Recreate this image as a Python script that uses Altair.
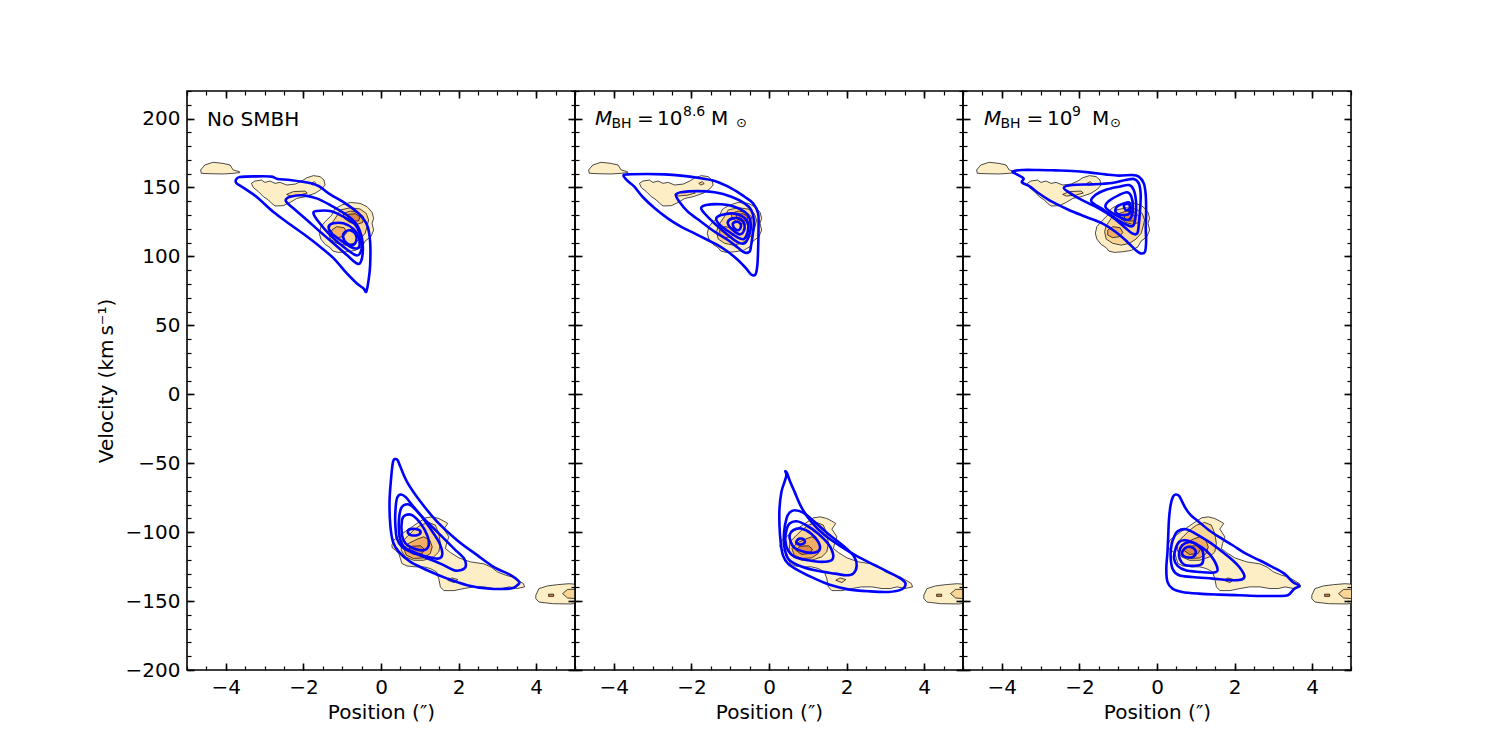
import altair as alt
import pandas as pd

# ---------------------------------------------------------------- axes
POS_RANGE = [-5, 5]
VEL_RANGE = [-200, 220]
POS_MAJOR = [-4, -2, 0, 2, 4]
POS_MINOR = [-5 + 0.5 * i for i in range(21)]
VEL_MAJOR = [-200, -150, -100, -50, 0, 50, 100, 150, 200]
VEL_MINOR = list(range(-200, 221, 10))

# ------------------------------------------- observed PVD contours
# closed paths of (position ["], velocity [km/s]), one list per level
obs_l1_west_clump = [(-4.65, 162.7), (-4.54, 166.3), (-4.33, 168.3), (-4.07, 167.5), (-3.89, 166.3),
                     (-3.81, 162.7), (-3.65, 161.5), (-3.64, 160.8), (-3.81, 160.3), (-4.07, 159.8),
                     (-4.41, 160.0), (-4.63, 160.3)]
obs_l1_north_band = [(-3.34, 153.0), (-3.25, 154.7), (-3.08, 155.4), (-2.99, 153.7), (-2.86, 154.7),
                     (-2.73, 153.0), (-2.60, 153.7), (-2.43, 151.8), (-2.21, 152.5), (-2.04, 154.7),
                     (-1.91, 157.1), (-1.74, 158.6), (-1.57, 157.9), (-1.47, 155.4), (-1.44, 151.8),
                     (-1.53, 148.9), (-1.70, 145.8), (-1.96, 143.3), (-2.17, 142.1), (-2.34, 139.2),
                     (-2.52, 136.8), (-2.73, 136.6), (-2.82, 138.5), (-2.90, 140.9), (-3.03, 143.3),
                     (-3.16, 147.0), (-3.29, 149.9)]
obs_l1_north_core = [(-1.14, 135.3), (-1.01, 137.3), (-0.79, 139.2), (-0.54, 138.5), (-0.36, 136.1),
                     (-0.23, 132.0), (-0.19, 127.6), (-0.23, 124.0), (-0.19, 119.1), (-0.26, 114.3),
                     (-0.41, 111.1), (-0.49, 107.0), (-0.66, 104.4), (-0.88, 103.4), (-1.10, 102.9),
                     (-1.24, 103.9), (-1.31, 106.3), (-1.44, 108.7), (-1.55, 112.6), (-1.59, 116.7),
                     (-1.55, 121.6), (-1.44, 125.2), (-1.27, 130.0), (-1.21, 133.7)]
obs_l1_south = [(0.28, -109.5), (0.33, -105.8), (0.50, -102.2), (0.67, -98.6), (0.93, -93.7),
                (1.15, -89.6), (1.32, -88.9), (1.49, -90.1), (1.62, -92.0), (1.72, -93.7),
                (1.62, -97.8), (1.75, -103.4), (1.69, -108.2), (1.66, -111.9), (1.79, -114.8),
                (2.01, -118.7), (2.31, -121.6), (2.65, -123.0), (2.84, -125.4), (3.00, -128.8),
                (3.21, -131.2), (3.38, -132.5), (3.53, -134.9), (3.67, -137.3), (3.70, -139.7),
                (3.51, -140.9), (3.30, -139.7), (3.13, -140.9), (2.91, -140.9), (2.65, -139.7),
                (2.39, -139.7), (2.14, -140.9), (1.88, -142.4), (1.62, -142.4), (1.53, -139.7),
                (1.49, -133.7), (1.43, -128.8), (1.27, -126.4), (1.10, -125.2), (0.89, -125.2),
                (0.67, -124.5), (0.54, -122.8), (0.50, -119.1), (0.46, -115.5), (0.37, -113.1),
                (0.29, -111.4)]
obs_l1_east_clump = [(3.99, -145.8), (4.07, -141.0), (4.29, -139.0), (4.55, -138.1), (4.85, -137.4),
                     (5.15, -138.1), (5.32, -141.0), (5.32, -150.7), (4.89, -152.1), (4.42, -151.9),
                     (4.07, -150.7), (3.99, -148.2)]

obs_l2_band_streak = [(-2.43, 145.0), (-2.26, 147.0), (-1.96, 147.4), (-1.90, 146.0), (-2.09, 144.5),
                      (-2.34, 143.8)]
obs_l2_band_knot = [(-1.81, 153.0), (-1.72, 154.2), (-1.67, 152.8), (-1.76, 151.8)]
obs_l2_north_core = [(-1.05, 133.7), (-0.79, 135.3), (-0.54, 134.4), (-0.38, 131.2), (-0.32, 126.4),
                     (-0.36, 121.6), (-0.41, 116.7), (-0.54, 112.6), (-0.71, 109.5), (-0.92, 108.2),
                     (-1.14, 109.5), (-1.31, 112.6), (-1.35, 117.9), (-1.31, 122.3), (-1.18, 127.6),
                     (-1.10, 131.2)]
obs_l2_south_core = [(0.54, -107.0), (0.67, -103.4), (0.84, -98.6), (1.02, -94.9), (1.23, -93.0),
                     (1.40, -94.9), (1.49, -101.0), (1.53, -108.2), (1.49, -114.3), (1.36, -117.9),
                     (1.10, -120.4), (0.84, -120.4), (0.63, -117.9), (0.52, -113.1)]
obs_l2_south_knot = [(1.72, -134.9), (1.83, -133.2), (1.98, -134.4), (1.88, -136.6)]
obs_l2_east_knot = [(4.68, -144.6), (4.81, -141.5), (5.02, -141.5), (5.02, -148.2), (4.81, -147.8)]

obs_l3_north_a = [(-0.97, 131.2), (-0.79, 132.9), (-0.58, 132.0), (-0.45, 128.8), (-0.47, 124.7),
                  (-0.62, 123.2), (-0.81, 124.7), (-0.95, 127.6)]
obs_l3_north_b = [(-1.27, 119.1), (-1.14, 121.6), (-0.95, 120.8), (-0.88, 117.4), (-0.97, 114.3),
                  (-1.14, 113.6), (-1.27, 115.5)]
obs_l3_south = [(0.59, -111.9), (0.71, -108.2), (0.93, -105.1), (1.10, -103.4), (1.26, -105.8),
                (1.32, -110.7), (1.27, -115.5), (1.10, -118.7), (0.84, -119.1), (0.65, -116.7)]

obs_l4_north = [(-0.84, 130.5), (-0.66, 131.0), (-0.54, 128.6), (-0.58, 125.7), (-0.73, 125.7),
                (-0.84, 127.6)]
obs_l4_south = [(0.69, -113.1), (0.80, -110.2), (1.02, -109.9), (1.12, -112.4), (1.06, -115.5),
                (0.84, -116.2)]
obs_l4_east_dash = [(4.32, -145.0), (4.45, -145.0), (4.45, -146.6), (4.32, -146.6)]

OBS_LEVELS = [
    [obs_l1_west_clump, obs_l1_north_band, obs_l1_north_core, obs_l1_south, obs_l1_east_clump],
    [obs_l2_band_streak, obs_l2_band_knot, obs_l2_north_core, obs_l2_south_core, obs_l2_south_knot,
     obs_l2_east_knot],
    [obs_l3_north_a, obs_l3_north_b, obs_l3_south],
    [obs_l4_north, obs_l4_south, obs_l4_east_dash],
]

# ------------------------------------------------ model contours
# no black hole
nobh_north = [
    [(-3.74, 155.4), (-3.64, 157.6), (-3.20, 158.1), (-2.82, 157.9), (-2.67, 156.2), (-2.34, 155.4),
     (-1.91, 153.7), (-1.61, 151.1), (-1.31, 145.0), (-0.92, 138.5), (-0.58, 131.2), (-0.36, 122.8),
     (-0.28, 110.7), (-0.28, 93.7), (-0.32, 82.8), (-0.38, 74.4), (-0.45, 76.8), (-0.62, 80.4),
     (-0.88, 87.7), (-1.22, 98.6), (-1.57, 107.0), (-1.96, 115.5), (-2.34, 123.2), (-2.78, 132.4),
     (-3.21, 143.3), (-3.55, 149.9), (-3.72, 153.0)],
    [(-2.45, 141.4), (-2.34, 143.3), (-2.00, 144.3), (-1.66, 142.1), (-1.31, 137.3), (-0.88, 130.0),
     (-0.62, 122.8), (-0.49, 113.1), (-0.47, 103.4), (-0.52, 96.1), (-0.62, 94.9), (-0.88, 101.0),
     (-1.22, 109.4), (-1.57, 117.9), (-1.91, 126.4), (-2.26, 134.9), (-2.43, 139.2)],
    [(-1.74, 131.2), (-1.66, 132.9), (-1.31, 132.9), (-0.97, 128.8), (-0.66, 122.8), (-0.54, 115.5),
     (-0.49, 108.2), (-0.54, 102.2), (-0.66, 101.0), (-0.97, 107.0), (-1.31, 115.5), (-1.61, 125.2)],
    [(-1.35, 121.6), (-1.23, 124.0), (-0.97, 124.0), (-0.71, 119.9), (-0.58, 114.3), (-0.55, 108.2),
     (-0.62, 105.8), (-0.79, 107.0), (-1.05, 111.9), (-1.27, 116.7)],
    [(-0.98, 114.3), (-0.92, 117.9), (-0.78, 118.9), (-0.65, 116.0), (-0.64, 111.1), (-0.73, 108.2),
     (-0.88, 109.5)],
]
nobh_south = [
    [(0.37, -47.0), (0.31, -49.0), (0.26, -61.1), (0.22, -78.0), (0.24, -94.9), (0.31, -107.0),
     (0.46, -114.3), (0.76, -121.6), (1.19, -127.6), (1.71, -133.7), (2.22, -138.5), (2.74, -140.9),
     (3.34, -140.9), (3.51, -138.5), (3.56, -136.1), (3.34, -131.2), (2.90, -125.2), (2.48, -116.7),
     (1.96, -105.8), (1.45, -92.5), (1.02, -78.0), (0.67, -63.5), (0.50, -52.6), (0.43, -47.8)],
    [(0.41, -75.6), (0.50, -72.7), (0.63, -74.4), (0.84, -81.6), (1.10, -90.1), (1.45, -99.8),
     (1.88, -111.9), (2.14, -119.1), (2.18, -125.2), (2.05, -127.6), (1.88, -127.6), (1.53, -122.8),
     (1.10, -117.9), (0.76, -114.3), (0.54, -110.7), (0.41, -104.6), (0.37, -94.9), (0.37, -85.3)],
    [(0.50, -84.1), (0.59, -80.4), (0.76, -80.4), (1.02, -87.7), (1.27, -97.4), (1.49, -107.0),
     (1.58, -115.5), (1.49, -119.1), (1.19, -117.9), (0.84, -114.3), (0.59, -110.7), (0.48, -103.4),
     (0.46, -92.5)],
    [(0.54, -91.3), (0.63, -87.7), (0.80, -87.7), (1.02, -93.7), (1.19, -102.2), (1.23, -109.5),
     (1.10, -113.1), (0.84, -111.9), (0.63, -108.2), (0.54, -102.2)],
    [(0.69, -99.8), (0.76, -97.8), (0.95, -98.1), (1.02, -100.3), (0.93, -102.2), (0.76, -102.0)],
]

# M_BH = 10^8.6 Msun
m86_north = [
    [(-3.75, 158.6), (-3.64, 159.5), (-3.13, 159.8), (-2.70, 159.5), (-2.27, 158.6), (-1.84, 157.1),
     (-1.40, 154.7), (-0.97, 149.4), (-0.63, 143.3), (-0.41, 138.5), (-0.28, 131.2), (-0.27, 120.3),
     (-0.28, 105.8), (-0.30, 93.7), (-0.35, 86.9), (-0.46, 86.9), (-0.59, 91.3), (-0.80, 97.4),
     (-1.06, 103.4), (-1.32, 108.2), (-1.58, 111.9), (-1.92, 116.7), (-2.27, 121.6), (-2.61, 127.6),
     (-2.96, 135.3), (-3.26, 143.3), (-3.47, 150.6), (-3.64, 154.7)],
    [(-2.40, 144.5), (-2.27, 146.5), (-1.84, 147.4), (-1.40, 146.5), (-0.97, 143.3), (-0.63, 138.5),
     (-0.46, 133.7), (-0.39, 126.4), (-0.41, 117.9), (-0.46, 108.2), (-0.50, 103.4), (-0.63, 102.9),
     (-0.80, 106.3), (-1.06, 111.9), (-1.40, 117.9), (-1.75, 125.2), (-2.09, 132.4), (-2.31, 139.7)],
    [(-1.75, 134.9), (-1.62, 137.3), (-1.23, 137.8), (-0.89, 136.1), (-0.63, 132.4), (-0.50, 127.6),
     (-0.47, 120.3), (-0.54, 113.1), (-0.63, 109.5), (-0.80, 110.2), (-1.06, 115.5), (-1.36, 122.8),
     (-1.62, 130.0)],
    [(-1.36, 127.6), (-1.23, 130.0), (-0.93, 131.2), (-0.67, 128.8), (-0.54, 124.0), (-0.56, 116.7),
     (-0.65, 112.6), (-0.80, 113.6), (-1.06, 118.4), (-1.28, 123.2)],
    [(-1.06, 125.2), (-0.93, 127.6), (-0.73, 127.1), (-0.63, 122.8), (-0.66, 117.9), (-0.76, 116.0),
     (-0.90, 118.4), (-1.02, 121.6)],
    [(-0.93, 124.0), (-0.80, 125.2), (-0.72, 122.3), (-0.78, 119.1), (-0.89, 120.3)],
]
m86_south = [
    [(0.42, -55.8), (0.45, -58.7), (0.40, -63.5), (0.32, -70.8), (0.27, -82.9), (0.27, -95.0),
     (0.30, -107.1), (0.36, -116.8), (0.49, -122.8), (0.75, -127.7), (1.18, -133.7), (1.61, -138.6),
     (2.04, -141.5), (2.56, -142.9), (3.07, -143.4), (3.42, -141.5), (3.52, -137.4), (3.42, -134.2),
     (3.16, -130.1), (2.73, -124.0), (2.30, -118.0), (1.87, -110.7), (1.44, -102.3), (1.09, -92.6),
     (0.83, -81.7), (0.66, -70.8), (0.53, -62.3), (0.47, -57.5)],
    [(0.45, -90.2), (0.53, -85.8), (0.66, -84.1), (0.88, -85.8), (1.18, -92.6), (1.52, -101.1),
     (1.95, -110.7), (2.20, -118.0), (2.26, -124.5), (2.17, -130.1), (2.00, -131.3), (1.70, -130.1),
     (1.18, -127.7), (0.75, -124.0), (0.49, -119.2), (0.39, -109.5), (0.39, -99.8)],
    [(0.45, -98.6), (0.53, -93.8), (0.71, -92.1), (0.96, -95.0), (1.27, -101.1), (1.52, -108.3),
     (1.65, -115.6), (1.61, -120.4), (1.35, -121.6), (1.01, -120.4), (0.66, -118.0), (0.49, -113.2),
     (0.42, -105.9)],
    [(0.53, -102.3), (0.62, -98.6), (0.83, -97.4), (1.09, -101.1), (1.27, -107.1), (1.31, -112.4),
     (1.18, -114.8), (0.92, -114.4), (0.66, -111.5), (0.56, -107.1)],
    [(0.71, -106.6), (0.79, -104.7), (0.90, -105.4), (0.92, -107.6), (0.82, -109.0), (0.72, -108.3)],
]

# M_BH = 10^9 Msun
m9_north = [
    [(-3.72, 161.5), (-3.48, 162.7), (-3.05, 162.7), (-2.62, 162.4), (-2.19, 162.0), (-1.76, 161.0),
     (-1.33, 159.5), (-0.98, 158.6), (-0.64, 159.1), (-0.47, 157.9), (-0.34, 153.0), (-0.29, 144.5),
     (-0.28, 132.4), (-0.29, 120.3), (-0.28, 110.7), (-0.31, 103.4), (-0.42, 102.2), (-0.55, 104.6),
     (-0.77, 110.7), (-1.07, 117.9), (-1.41, 124.0), (-1.84, 128.8), (-2.27, 133.7), (-2.71, 139.7),
     (-3.05, 145.8), (-3.27, 150.6), (-3.48, 153.7), (-3.44, 156.6), (-3.61, 159.5)],
    [(-2.40, 149.9), (-2.19, 151.8), (-1.67, 152.3), (-1.16, 153.3), (-0.81, 155.4), (-0.60, 156.2),
     (-0.47, 153.0), (-0.42, 144.5), (-0.44, 132.4), (-0.47, 122.8), (-0.51, 116.7), (-0.64, 116.7),
     (-0.85, 121.6), (-1.16, 128.8), (-1.50, 134.9), (-1.93, 140.9), (-2.27, 146.5)],
    [(-1.69, 139.7), (-1.59, 144.5), (-1.33, 148.2), (-0.98, 150.6), (-0.72, 151.8), (-0.60, 148.2),
     (-0.54, 139.7), (-0.55, 130.0), (-0.61, 122.3), (-0.77, 122.8), (-1.07, 127.6), (-1.37, 133.7)],
    [(-1.33, 136.1), (-1.24, 140.2), (-0.98, 144.5), (-0.77, 146.5), (-0.66, 143.3), (-0.62, 136.1),
     (-0.66, 128.8), (-0.77, 126.4), (-0.98, 128.8), (-1.20, 132.4)],
    [(-1.07, 132.4), (-1.03, 136.1), (-0.85, 138.5), (-0.72, 139.2), (-0.68, 136.1), (-0.71, 131.2),
     (-0.83, 130.0), (-0.98, 130.5)],
    [(-0.85, 137.3), (-0.72, 137.8), (-0.71, 134.4), (-0.81, 133.7)],
]
m9_south = [
    [(0.41, -74.4), (0.48, -72.7), (0.57, -73.7), (0.65, -78.1), (0.74, -82.9), (0.87, -87.7),
     (1.08, -92.6), (1.34, -98.6), (1.60, -103.5), (1.95, -109.5), (2.29, -115.6), (2.64, -120.4),
     (2.98, -125.3), (3.28, -130.1), (3.50, -136.1), (3.67, -139.0), (3.54, -141.0), (3.37, -145.8),
     (3.07, -146.3), (2.64, -146.3), (2.12, -145.8), (1.60, -145.3), (1.08, -144.6), (0.65, -143.4),
     (0.40, -141.0), (0.27, -136.1), (0.24, -126.5), (0.27, -114.4), (0.29, -102.3), (0.31, -90.2),
     (0.35, -80.5)],
    [(0.44, -103.5), (0.53, -99.4), (0.74, -97.9), (0.99, -101.1), (1.34, -107.1), (1.69, -114.4),
     (1.95, -120.4), (2.12, -125.3), (2.25, -131.3), (2.20, -134.2), (1.95, -134.9), (1.43, -133.7),
     (0.91, -132.5), (0.57, -131.3), (0.40, -126.5), (0.35, -116.8), (0.38, -108.3)],
    [(0.48, -111.9), (0.57, -107.1), (0.74, -105.9), (0.99, -108.3), (1.26, -113.2), (1.47, -120.4),
     (1.56, -127.7), (1.43, -129.4), (1.08, -128.9), (0.74, -127.7), (0.53, -124.5), (0.44, -119.2)],
    [(0.57, -114.4), (0.65, -109.5), (0.83, -107.1), (0.99, -108.3), (1.17, -113.2), (1.19, -120.4),
     (1.13, -123.6), (0.91, -124.5), (0.70, -123.6), (0.59, -119.7)],
    [(0.67, -113.2), (0.78, -110.7), (0.93, -111.5), (1.00, -114.4), (0.93, -118.0), (0.74, -118.0),
     (0.65, -116.3)],
]

MODELS = [nobh_north + nobh_south, m86_north + m86_south, m9_north + m9_south]

# ------------------------------------------------------------ style
FONT = "DejaVu Sans"
OBS_FILLS = ["#fdeec6", "#fad595", "#f3ae65", "#dc8749"]
MODEL_BLUE = "#0000ff"
PANEL_W, PANEL_H = 388, 579
MAJOR_LEN, MINOR_LEN = 7, 4


def polygons_frame(polys):
    rows = []
    for pid, poly in enumerate(polys):
        for k, (pos, vel) in enumerate(poly):
            rows.append({"pid": pid, "k": k, "pos": pos, "vel": vel})
    return pd.DataFrame(rows)


def x_enc(axis=None):
    return alt.X("pos:Q", scale=alt.Scale(domain=POS_RANGE, nice=False, zero=False), axis=axis)


def y_enc(axis=None):
    return alt.Y("vel:Q", scale=alt.Scale(domain=VEL_RANGE, nice=False, zero=False), axis=axis)


def tick_axis(orient, values, length, width, labels=False, title=None, title_pad=9):
    kw = dict(orient=orient, values=values, tickSize=length, tickWidth=width, tickColor="black",
              offset=-length, domain=False, grid=False, labels=labels, zindex=2, title=title)
    if labels:
        kw.update(format="d", labelFont=FONT, labelFontSize=20, labelColor="black",
                  labelPadding=7, labelFlush=False)
    if title:
        kw.update(titleFont=FONT, titleFontSize=20, titleFontWeight="normal", titleColor="black",
                  titlePadding=title_pad)
    return alt.Axis(**kw)


ANCHOR = pd.DataFrame({"pos": [0.0], "vel": [0.0]})


def axis_layers(first):
    def layer(xa, ya):
        return alt.Chart(ANCHOR).mark_point(opacity=0).encode(x=x_enc(xa), y=y_enc(ya))

    return [
        layer(tick_axis("bottom", POS_MAJOR, MAJOR_LEN, 1.6, labels=True, title="Position (″)",
                        title_pad=5),
              tick_axis("left", VEL_MAJOR, MAJOR_LEN, 1.6, labels=first,
                        title="Velocity (km\u2009s⁻¹)" if first else None)),
        layer(tick_axis("bottom", POS_MINOR, MINOR_LEN, 1.2),
              tick_axis("left", VEL_MINOR, MINOR_LEN, 1.2)),
        layer(tick_axis("top", POS_MAJOR, MAJOR_LEN, 1.6),
              tick_axis("right", VEL_MAJOR, MAJOR_LEN, 1.6)),
        layer(tick_axis("top", POS_MINOR, MINOR_LEN, 1.2),
              tick_axis("right", VEL_MINOR, MINOR_LEN, 1.2)),
    ]


def observed_layers():
    out = []
    for polys, fill in zip(OBS_LEVELS, OBS_FILLS):
        out.append(
            alt.Chart(polygons_frame(polys))
            .mark_line(interpolate="linear-closed", fill=fill, stroke="black", strokeWidth=0.7,
                       clip=True)
            .encode(x=x_enc(), y=y_enc(), detail="pid:N", order="k:Q")
        )
    return out


def model_layer(polys):
    return (
        alt.Chart(polygons_frame(polys))
        .mark_line(interpolate="cardinal-closed", stroke=MODEL_BLUE, strokeWidth=2.6, clip=True)
        .encode(x=x_enc(), y=y_enc(), detail="pid:N", order="k:Q")
    )


def text_piece(text, x, y, size=20, italic=False):
    return (
        alt.Chart(pd.DataFrame({"t": [text]}))
        .mark_text(align="left", baseline="alphabetic", font=FONT, fontSize=size,
                   fontStyle="italic" if italic else "normal", color="black")
        .encode(text="t:N", x=alt.value(x), y=alt.value(y))
    )


def mbh_label(exponent, xs):
    x_m, x_bh, x_eq, x_ten, x_exp, x_msun, x_sun = xs
    return [
        text_piece("M", x_m, 34, italic=True),
        text_piece("BH", x_bh, 37, size=14),
        text_piece("=", x_eq, 34),
        text_piece("10", x_ten, 34),
        text_piece(exponent, x_exp, 25, size=14),
        text_piece("M", x_msun, 34),
        text_piece("⊙", x_sun, 36, size=13),
    ]


PANEL_LABELS = [
    [text_piece("No SMBH", 20, 35)],
    mbh_label("8.6", (20, 36.5, 62, 82, 108, 136, 161)),
    mbh_label("9", (21, 37.5, 63.5, 84, 109, 129, 147)),
]


def panel(i):
    layers = observed_layers() + [model_layer(MODELS[i])] + PANEL_LABELS[i] + axis_layers(i == 0)
    return (
        alt.layer(*layers)
        .resolve_axis(x="independent", y="independent")
        .properties(width=PANEL_W, height=PANEL_H)
    )


chart = (
    alt.hconcat(panel(0), panel(1), panel(2), spacing=0, bounds="flush")
    .properties(padding={"left": 95, "top": 89, "right": 5, "bottom": 5})
    .configure_view(stroke="black", strokeWidth=1.6)
)

chart.save("out.html", embed_options={"renderer": "svg", "actions": False})
